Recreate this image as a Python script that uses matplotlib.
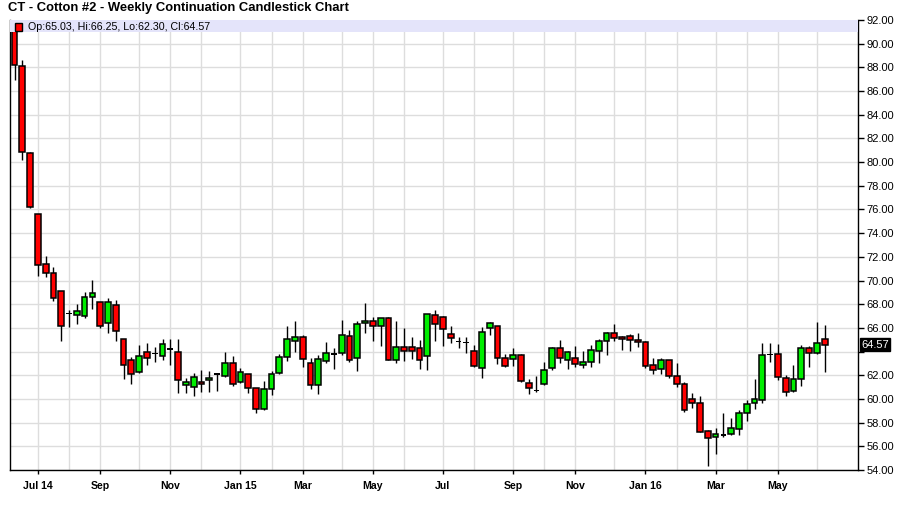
import matplotlib
matplotlib.use("Agg")
import matplotlib.pyplot as plt
import matplotlib.transforms as mtransforms
from matplotlib.patches import Rectangle
import pandas as pd
import numpy as np

title = "CT - Cotton #2 - Weekly Continuation Candlestick Chart"
start_date = "2014-06-16"

opens = [91.40, 88.11, 80.76, 75.60, 71.38, 70.62, 69.10, 67.21, 67.07, 66.99,
         68.59, 68.17, 66.39, 67.94, 65.04, 63.27, 62.25, 63.94, 63.86, 63.61,
         64.23, 63.94, 61.15, 60.99, 61.41, 61.58, 62.11, 61.92, 63.01, 61.41,
         62.08, 60.90, 59.13, 60.82, 62.17, 63.52, 64.87, 65.21, 63.01, 61.15,
         63.18, 63.80, 63.86, 65.30, 63.44, 66.39, 66.56, 66.14, 66.82, 63.27,
         64.37, 64.37, 64.28, 63.61, 67.10, 66.93, 65.46, 64.85, 64.76, 64.03,
         62.59, 65.97, 66.14, 63.44, 63.35, 63.69, 61.32, 60.73, 61.24, 62.59,
         64.28, 63.27, 63.44, 62.85, 63.10, 64.03, 64.87, 65.55, 65.21, 65.30,
         64.96, 64.79, 62.85, 62.51, 63.27, 61.92, 61.24, 59.97, 59.63, 57.27,
         56.76, 56.96, 57.01, 57.44, 58.79, 59.63, 59.89, 63.77, 63.77, 61.75,
         60.65, 61.66, 64.28, 63.86, 65.03]
highs = [91.90, 88.59, 80.85, 75.65, 72.08, 71.13, 69.15, 67.52, 68.03, 69.07,
         70.06, 68.20, 68.54, 68.37, 65.08, 63.52, 64.56, 64.70, 64.42, 65.04,
         65.04, 65.04, 61.75, 62.23, 62.45, 62.39, 62.23, 63.94, 63.63, 62.59,
         62.10, 60.92, 61.52, 62.39, 63.80, 66.17, 66.59, 65.41, 63.44, 63.69,
         64.82, 64.28, 66.68, 65.83, 66.59, 68.11, 66.93, 66.85, 66.90, 66.59,
         66.00, 65.24, 64.99, 67.20, 67.52, 67.00, 66.17, 65.27, 65.21, 64.56,
         66.06, 66.48, 66.16, 63.77, 64.28, 63.80, 61.72, 61.92, 63.15, 64.37,
         64.99, 64.06, 64.48, 64.06, 64.54, 65.04, 65.66, 66.34, 65.32, 65.49,
         65.58, 64.87, 63.44, 63.44, 63.29, 63.01, 61.41, 60.48, 60.23, 57.35,
         57.58, 58.82, 58.42, 59.07, 59.92, 61.69, 64.73, 64.73, 64.65, 62.00,
         62.85, 64.54, 64.45, 66.51, 66.25]
lows = [86.96, 80.20, 76.10, 70.42, 70.28, 68.31, 64.93, 66.11, 66.34, 66.87,
        67.58, 65.97, 65.61, 64.93, 61.72, 61.30, 62.20, 62.90, 63.15, 63.30,
        62.90, 60.54, 60.54, 60.28, 60.62, 60.62, 60.70, 61.83, 61.13, 61.32,
        60.48, 58.85, 59.10, 60.37, 62.08, 63.18, 64.00, 62.73, 60.87, 60.45,
        63.01, 62.56, 63.69, 63.13, 62.34, 65.55, 64.90, 64.51, 63.25, 63.01,
        63.18, 63.38, 62.56, 62.48, 64.90, 64.48, 64.76, 64.34, 63.92, 62.68,
        61.80, 65.38, 62.93, 62.68, 62.76, 61.40, 60.39, 60.56, 61.15, 62.42,
        63.01, 62.56, 62.73, 62.65, 62.73, 63.01, 63.69, 64.87, 64.11, 64.08,
        64.42, 62.65, 62.08, 62.08, 61.75, 60.99, 58.87, 59.21, 57.20, 54.31,
        55.38, 56.76, 56.96, 56.96, 58.17, 59.13, 59.63, 63.10, 61.58, 60.23,
        60.56, 61.07, 62.73, 63.77, 62.30]
closes = [88.23, 80.85, 76.20, 71.30, 70.62, 68.51, 66.17, 67.21, 67.41, 68.59,
          68.93, 66.17, 68.17, 65.72, 62.85, 62.08, 63.61, 63.44, 63.86, 64.62,
          64.23, 61.58, 61.41, 61.83, 61.24, 61.75, 62.11, 63.01, 61.24, 62.25,
          60.90, 59.13, 60.82, 62.08, 63.52, 65.04, 65.21, 63.35, 61.15, 63.35,
          63.86, 63.80, 65.38, 63.27, 66.31, 66.56, 66.14, 66.82, 63.27, 64.37,
          64.03, 64.03, 63.27, 67.18, 66.31, 65.89, 65.13, 64.85, 64.76, 62.76,
          65.63, 66.39, 63.44, 62.76, 63.69, 61.49, 60.90, 60.73, 62.42, 64.28,
          63.44, 63.97, 62.93, 63.10, 64.11, 64.87, 65.55, 65.15, 65.04, 64.96,
          64.79, 62.76, 62.42, 63.27, 61.92, 61.24, 59.04, 59.63, 57.24, 56.68,
          57.01, 56.96, 57.52, 58.79, 59.55, 59.97, 63.69, 63.77, 61.83, 60.56,
          61.66, 64.28, 63.86, 64.70, 64.57]

label_months = [7, 9, 11, 1, 3, 5]

dates = pd.date_range(start_date, periods=len(opens), freq="7D")
x = np.arange(len(opens))
o = np.array(opens); h = np.array(highs); l = np.array(lows); c = np.array(closes)

FONT = ["Liberation Sans", "DejaVu Sans"]

fig = plt.figure(figsize=(9, 5.11), dpi=100)
ax = fig.add_axes([10/900, 41/511, 848/900, 450/511])
ax.set_xlim(-0.578, 108.28)
ax.set_ylim(54, 92)

# month gridlines / ticks
month_idx = [i for i in range(1, len(dates)) if dates[i].month != dates[i-1].month]
major_idx = [i for i in month_idx if dates[i].month in label_months]
minor_idx = [i for i in month_idx if dates[i].month not in label_months]
major_lab = []
for i in major_idx:
    d = dates[i]
    if d.month == 1 or i == major_idx[0]:
        major_lab.append(d.strftime("%b %y"))
    else:
        major_lab.append(d.strftime("%b"))
ax.set_xticks(major_idx)
ax.set_xticklabels(major_lab)
ax.set_xticks(minor_idx, minor=True)
ax.tick_params(axis="x", which="major", length=3, width=1, direction="out", pad=5,
               labelsize=7.6)
ax.tick_params(axis="x", which="minor", length=0)
for lab in ax.get_xticklabels():
    lab.set_family(FONT)
    lab.set_weight("bold")

yt = np.arange(54, 92.01, 2)
ax.set_yticks(yt)
ax.set_yticklabels(["" if abs(v-64) < 1e-6 else f"{v:.2f}" for v in yt])
ax.yaxis.tick_right()
ax.tick_params(axis="y", length=4, width=1, direction="out", pad=2, labelsize=8)
for lab in ax.get_yticklabels():
    lab.set_family(FONT)

ax.grid(True, which="both", color="#dddddd", lw=1)
ax.set_axisbelow(True)
for s in ["left", "right", "bottom"]:
    ax.spines[s].set_color("black"); ax.spines[s].set_linewidth(1)
ax.spines["top"].set_visible(False)

# candles
ax.vlines(x, l, h, color="black", lw=1, zorder=2)
bw = 0.74
for i in range(len(x)):
    lo_b = min(o[i], c[i]); hi_b = max(o[i], c[i])
    if hi_b - lo_b < 0.02:
        ax.bar(x[i], 0.12, bottom=o[i]-0.06, width=bw, color="black", lw=0, zorder=3)
    else:
        col = "#00ee00" if c[i] > o[i] else "#ff0000"
        ax.bar(x[i], hi_b - lo_b, bottom=lo_b, width=bw, color=col,
               edgecolor="black", lw=1.1, zorder=3)

# header band
ax.add_patch(Rectangle((0, 1 - 12.5/450), 1, 12.5/450, transform=ax.transAxes,
                       facecolor="#e4e4fa", edgecolor="none", zorder=5, clip_on=False))
ax.add_patch(Rectangle((5/848, 1 - 11/450), 7/848, 7.5/450, transform=ax.transAxes,
                       facecolor="#ff0000", edgecolor="black", lw=1, zorder=6))
ax.text(18/848, 1 - 6.5/450,
        f"Op:{opens[-1]:.2f}, Hi:{highs[-1]:.2f}, Lo:{lows[-1]:.2f}, Cl:{closes[-1]:.2f}",
        transform=ax.transAxes, ha="left", va="center", fontsize=7.7,
        family=FONT, zorder=6)

# last price box
trans = mtransforms.blended_transform_factory(ax.transAxes, ax.transData)
ax.text(1 + 3.5/848, closes[-1], f"{closes[-1]:.2f}", transform=trans, ha="left",
        va="center", color="white", fontsize=8, family=FONT,
        bbox=dict(facecolor="black", edgecolor="black", boxstyle="square,pad=0.12"),
        zorder=7, clip_on=False)

fig.text(8/900, 1 - 8.5/511, title, ha="left", va="center", fontsize=9.4,
         fontweight="bold", family=FONT)

fig.savefig("out.png", dpi=100, facecolor="white")
